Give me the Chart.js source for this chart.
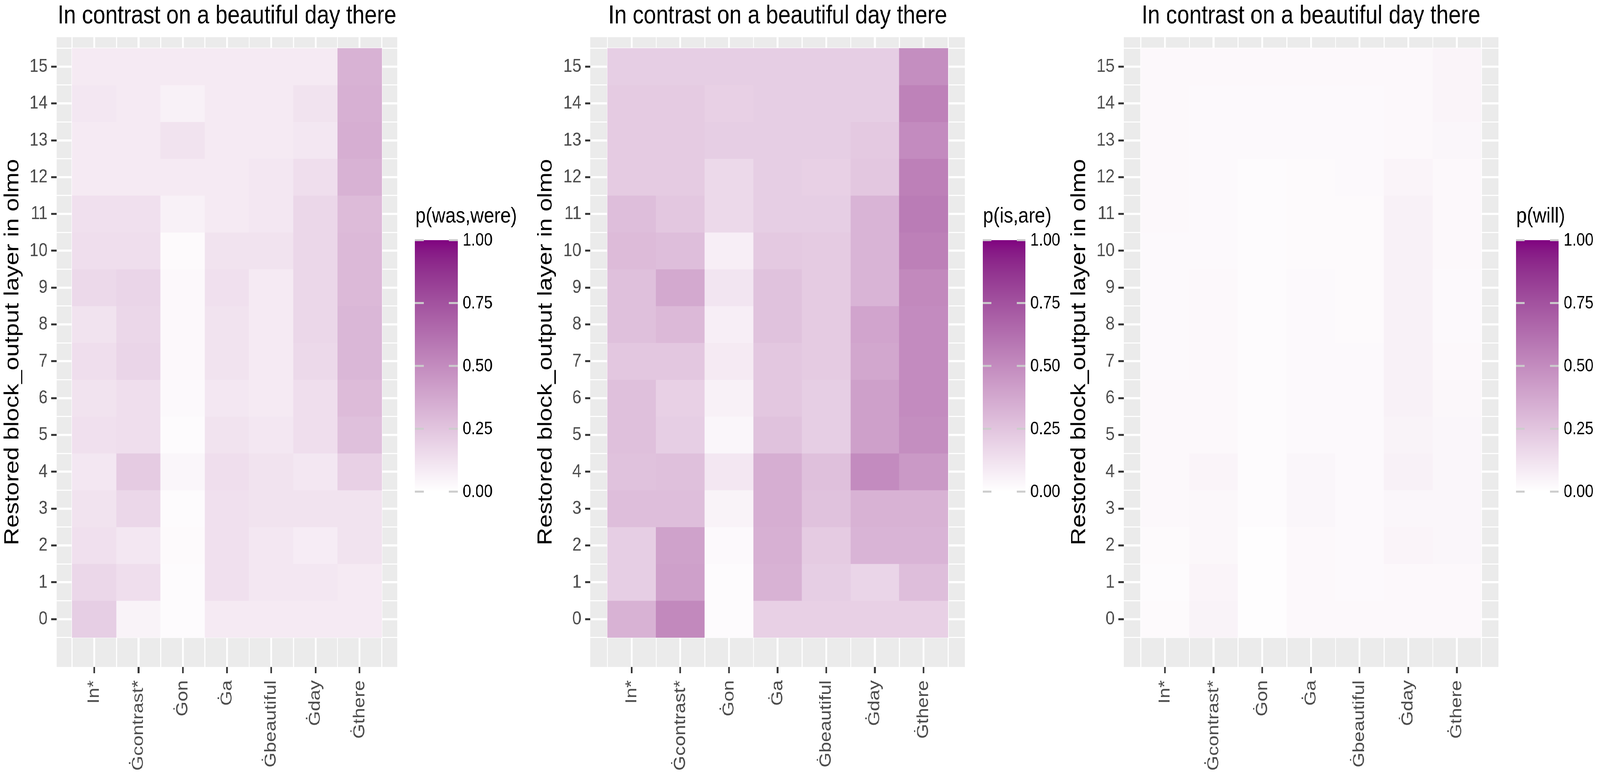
<!DOCTYPE html>
<html>
<head>
<meta charset="utf-8">
<script src="https://cdn.jsdelivr.net/npm/chart.js@4.4.1/dist/chart.umd.min.js"></script>
<style>
  html, body { margin: 0; padding: 0; background: #ffffff; overflow: hidden; }
  #stage { position: relative; overflow: hidden; }
  #wrap { position: absolute; left: 0; top: 0; width: 4800px; height: 2000px; display: flex; transform-origin: 0 0; }
  canvas { display: block; }
</style>
</head>
<body>
<div id="stage">
  <div id="wrap">
    <canvas id="c1" width="1600" height="2000"></canvas>
    <canvas id="c2" width="1600" height="2000"></canvas>
    <canvas id="c3" width="1600" height="2000"></canvas>
  </div>
</div>
<script>
// tokens along x, restored layers along y
var tokens = ['In*', 'Ġcontrast*', 'Ġon', 'Ġa', 'Ġbeautiful', 'Ġday', 'Ġthere'];
var layers = [0, 1, 2, 3, 4, 5, 6, 7, 8, 9, 10, 11, 12, 13, 14, 15];
var legendTicks = [0, 0.25, 0.5, 0.75, 1];
var plotTitle = 'In contrast on a beautiful day there';

// one row per layer (0 -> 15), one value per token
var wasWere = [
    [0.21, 0.05, 0.015, 0.09, 0.09, 0.09, 0.09],
    [0.17, 0.14, 0.015, 0.13, 0.10, 0.10, 0.09],
    [0.13, 0.10, 0.02, 0.13, 0.10, 0.08, 0.12],
    [0.12, 0.17, 0.015, 0.13, 0.12, 0.12, 0.12],
    [0.10, 0.22, 0.04, 0.14, 0.12, 0.10, 0.20],
    [0.13, 0.14, 0.015, 0.12, 0.10, 0.14, 0.27],
    [0.12, 0.14, 0.025, 0.10, 0.09, 0.14, 0.29],
    [0.14, 0.18, 0.03, 0.12, 0.09, 0.16, 0.31],
    [0.12, 0.17, 0.03, 0.12, 0.09, 0.17, 0.31],
    [0.16, 0.18, 0.03, 0.13, 0.09, 0.17, 0.30],
    [0.14, 0.14, 0.02, 0.12, 0.12, 0.17, 0.30],
    [0.13, 0.13, 0.06, 0.09, 0.10, 0.17, 0.29],
    [0.09, 0.09, 0.09, 0.09, 0.10, 0.14, 0.33],
    [0.09, 0.09, 0.12, 0.09, 0.09, 0.10, 0.35],
    [0.10, 0.09, 0.06, 0.09, 0.09, 0.12, 0.34],
    [0.09, 0.09, 0.09, 0.09, 0.09, 0.09, 0.33]
];

var isAre = [
    [0.33, 0.51, 0.015, 0.20, 0.20, 0.20, 0.20],
    [0.21, 0.41, 0.015, 0.33, 0.21, 0.18, 0.28],
    [0.21, 0.40, 0.025, 0.34, 0.22, 0.32, 0.32],
    [0.28, 0.28, 0.05, 0.35, 0.26, 0.33, 0.33],
    [0.26, 0.27, 0.10, 0.35, 0.27, 0.50, 0.44],
    [0.27, 0.21, 0.04, 0.26, 0.21, 0.41, 0.49],
    [0.27, 0.20, 0.06, 0.24, 0.21, 0.41, 0.50],
    [0.24, 0.24, 0.09, 0.24, 0.22, 0.38, 0.50],
    [0.27, 0.30, 0.07, 0.26, 0.22, 0.39, 0.50],
    [0.27, 0.37, 0.11, 0.26, 0.22, 0.32, 0.51],
    [0.29, 0.28, 0.07, 0.23, 0.22, 0.32, 0.55],
    [0.28, 0.24, 0.16, 0.21, 0.21, 0.32, 0.57],
    [0.22, 0.22, 0.16, 0.21, 0.20, 0.24, 0.55],
    [0.22, 0.22, 0.21, 0.21, 0.21, 0.23, 0.50],
    [0.22, 0.22, 0.20, 0.21, 0.21, 0.21, 0.54],
    [0.21, 0.21, 0.21, 0.21, 0.21, 0.21, 0.49]
];

var will = [
    [0.02, 0.05, 0.008, 0.03, 0.03, 0.03, 0.03],
    [0.015, 0.045, 0.008, 0.03, 0.025, 0.03, 0.03],
    [0.02, 0.035, 0.008, 0.03, 0.025, 0.045, 0.04],
    [0.03, 0.035, 0.015, 0.04, 0.025, 0.04, 0.04],
    [0.03, 0.045, 0.015, 0.04, 0.025, 0.06, 0.04],
    [0.03, 0.03, 0.015, 0.025, 0.025, 0.05, 0.04],
    [0.03, 0.03, 0.015, 0.025, 0.025, 0.06, 0.035],
    [0.025, 0.03, 0.015, 0.025, 0.025, 0.06, 0.03],
    [0.025, 0.03, 0.015, 0.025, 0.02, 0.06, 0.025],
    [0.025, 0.03, 0.015, 0.025, 0.02, 0.06, 0.025],
    [0.025, 0.025, 0.015, 0.02, 0.02, 0.06, 0.03],
    [0.03, 0.025, 0.015, 0.02, 0.02, 0.06, 0.03],
    [0.03, 0.025, 0.015, 0.02, 0.025, 0.045, 0.03],
    [0.03, 0.025, 0.025, 0.025, 0.025, 0.03, 0.04],
    [0.03, 0.025, 0.025, 0.025, 0.025, 0.03, 0.045],
    [0.03, 0.03, 0.03, 0.03, 0.03, 0.03, 0.045]
];

var FONT = "'Liberation Sans', Arial, Helvetica, sans-serif";
Chart.defaults.font.family = FONT;

// stretch the 4800x2000 layout over the whole window, whatever its real size
var fitX = window.innerWidth / 4800;
var fitY = window.innerHeight / 2000;
var stage = document.getElementById('stage');
stage.style.width = window.innerWidth + 'px';
stage.style.height = window.innerHeight + 'px';
document.getElementById('wrap').style.transform = 'scale(' + fitX + ',' + fitY + ')';
var pixelRatio = Math.max(1, (window.devicePixelRatio || 1) * Math.max(fitX, fitY));

// white -> purple, interpolated in Lab like ggplot's scale_fill_gradient
function toLin(c) {
    c = c / 255;
    return c <= 0.04045 ? c / 12.92 : Math.pow((c + 0.055) / 1.055, 2.4);
}
function fromLin(c) {
    c = c <= 0.0031308 ? 12.92 * c : 1.055 * Math.pow(c, 1 / 2.4) - 0.055;
    return Math.round(Math.max(0, Math.min(1, c)) * 255);
}
function rgbToLab(rgb) {
    var r = toLin(rgb[0]), g = toLin(rgb[1]), b = toLin(rgb[2]);
    var x = (0.4124 * r + 0.3576 * g + 0.1805 * b) / 0.95047;
    var y = 0.2126 * r + 0.7152 * g + 0.0722 * b;
    var z = (0.0193 * r + 0.1192 * g + 0.9505 * b) / 1.08883;
    var f = function(t) { return t > 0.008856 ? Math.cbrt(t) : 7.787 * t + 16 / 116; };
    var fx = f(x), fy = f(y), fz = f(z);
    return [116 * fy - 16, 500 * (fx - fy), 200 * (fy - fz)];
}
function labToRgb(lab) {
    var fy = (lab[0] + 16) / 116, fx = fy + lab[1] / 500, fz = fy - lab[2] / 200;
    var inv = function(t) { return t > 0.206893 ? t * t * t : (t - 16 / 116) / 7.787; };
    var x = inv(fx) * 0.95047, y = inv(fy), z = inv(fz) * 1.08883;
    var r = 3.2406 * x - 1.5372 * y - 0.4986 * z;
    var g = -0.9689 * x + 1.8758 * y + 0.0415 * z;
    var b = 0.0557 * x - 0.2040 * y + 1.0570 * z;
    return [fromLin(r), fromLin(g), fromLin(b)];
}
var lowLab = rgbToLab([255, 255, 255]);
var highLab = rgbToLab([128, 0, 128]);
function fillColor(v) {
    v = Math.max(0, Math.min(1, v));
    var lab = [0, 1, 2].map(function(i) { return lowLab[i] + (highLab[i] - lowLab[i]) * v; });
    var c = labToRgb(lab);
    return 'rgb(' + c[0] + ',' + c[1] + ',' + c[2] + ')';
}

// grey panel behind the tiles
var panelBg = {
    id: 'panelBg',
    beforeDraw: function(chart) {
        var ctx = chart.ctx, a = chart.chartArea;
        ctx.save();
        ctx.fillStyle = '#ffffff';
        ctx.fillRect(0, 0, chart.width, chart.height);
        ctx.fillStyle = '#EBEBEB';
        ctx.fillRect(a.left, a.top, a.right - a.left, a.bottom - a.top);
        ctx.restore();
    }
};

// ggplot style colour bar
var colorbar = {
    id: 'colorbar',
    afterDraw: function(chart, args, opts) {
        var ctx = chart.ctx;
        var left = chart.chartArea.right + 53, w = 128, top = 615, h = 644;
        ctx.save();
        for (var i = 0; i < h; i++) {
            ctx.fillStyle = fillColor(1 - (i + 0.5) / h);
            ctx.fillRect(left, top + i, w, i === h - 1 ? 1 : 1.6);
        }
        ctx.fillStyle = '#CCCCCC';
        legendTicks.forEach(function(t) {
            var y = top + (1 - t) * h;
            ctx.fillRect(left, y - 2.5, 26, 5);
            ctx.fillRect(left + w - 26, y - 2.5, 26, 5);
        });
        ctx.fillStyle = '#000000';
        ctx.font = '46px ' + FONT;
        ctx.textAlign = 'left';
        ctx.textBaseline = 'middle';
        legendTicks.forEach(function(t) {
            ctx.fillText(t.toFixed(2), left + w + 15, top + (1 - t) * h + 1);
        });
        ctx.font = '56px ' + FONT;
        ctx.textBaseline = 'alphabetic';
        ctx.fillText(opts.title, left + 1, 570);
        ctx.restore();
    }
};

function makeHeatmap(canvasId, values, legendTitle, leftWidth, rightPad) {
    var cells = [];
    values.forEach(function(row, li) {
        row.forEach(function(v, ti) {
            cells.push({ x: ti + 1, y: [layers[li] - 0.5, layers[li] + 0.5], v: v });
        });
    });

    var halfX = [];
    for (var i = 0; i <= tokens.length; i++) halfX.push(i + 0.5);
    var halfY = [];
    for (var j = 0; j <= layers.length; j++) halfY.push(j - 0.5);

    var ctx = document.getElementById(canvasId).getContext('2d');
    return new Chart(ctx, {
        type: 'bar',
        data: {
            datasets: [{
                data: cells,
                xAxisID: 'x',
                yAxisID: 'y',
                backgroundColor: function(c) { return c.raw ? fillColor(c.raw.v) : '#ffffff'; },
                borderWidth: 0,
                barPercentage: 1,
                categoryPercentage: 1
            }]
        },
        options: {
            responsive: false,
            animation: false,
            devicePixelRatio: pixelRatio,
            events: [],
            layout: { padding: { left: 0, top: 0, right: rightPad, bottom: 0 } },
            plugins: {
                legend: { display: false },
                tooltip: { enabled: false },
                title: {
                    display: true,
                    text: plotTitle,
                    fullSize: false,
                    color: '#000000',
                    font: { size: 66, weight: 'normal' },
                    padding: { top: 2, bottom: 14 }
                },
                colorbar: { title: legendTitle }
            },
            scales: {
                x: {
                    type: 'linear',
                    position: 'bottom',
                    min: 0.15,
                    max: 7.85,
                    offset: false,
                    afterBuildTicks: function(s) {
                        s.ticks = tokens.map(function(t, k) { return { value: k + 1 }; });
                    },
                    afterFit: function(s) { s.height = 292; },
                    border: { display: false },
                    grid: { offset: false, color: '#ffffff', lineWidth: 5.5, tickColor: '#333333', tickWidth: 5, tickLength: 16 },
                    ticks: {
                        autoSkip: false,
                        minRotation: 90,
                        maxRotation: 90,
                        padding: 18,
                        color: '#4D4D4D',
                        font: { size: 49 },
                        callback: function(v) { return tokens[v - 1]; }
                    }
                },
                xMinor: {
                    type: 'linear',
                    position: 'bottom',
                    min: 0.15,
                    max: 7.85,
                    offset: false,
                    afterBuildTicks: function(s) {
                        s.ticks = halfX.map(function(v) { return { value: v }; });
                    },
                    afterFit: function(s) { s.height = 0; },
                    border: { display: false },
                    grid: { offset: false, color: '#ffffff', lineWidth: 2.8, drawTicks: false },
                    ticks: { display: false }
                },
                y: {
                    type: 'linear',
                    position: 'left',
                    min: -1.3,
                    max: 15.8,
                    afterBuildTicks: function(s) {
                        s.ticks = layers.map(function(l) { return { value: l }; });
                    },
                    afterFit: function(s) { s.width = leftWidth; },
                    border: { display: false },
                    grid: { color: '#ffffff', lineWidth: 5.5, tickColor: '#333333', tickWidth: 5, tickLength: 16 },
                    ticks: {
                        padding: 11,
                        color: '#4D4D4D',
                        font: { size: 49 },
                        callback: function(v) { return String(v); }
                    },
                    title: {
                        display: true,
                        text: 'Restored block_output layer in olmo',
                        color: '#000000',
                        font: { size: 62, weight: 'normal' },
                        padding: { top: 1, bottom: 0 }
                    }
                },
                yMinor: {
                    type: 'linear',
                    position: 'left',
                    min: -1.3,
                    max: 15.8,
                    afterBuildTicks: function(s) {
                        s.ticks = halfY.map(function(v) { return { value: v }; });
                    },
                    afterFit: function(s) { s.width = 0; },
                    border: { display: false },
                    grid: { color: '#ffffff', lineWidth: 2.8, drawTicks: false },
                    ticks: { display: false }
                }
            }
        },
        plugins: [panelBg, colorbar]
    });
}

makeHeatmap('c1', wasWere, 'p(was,were)', 170, 408);
makeHeatmap('c2', isAre, 'p(is,are)', 171, 305);
makeHeatmap('c3', will, 'p(will)', 171, 305);
</script>
</body>
</html>
